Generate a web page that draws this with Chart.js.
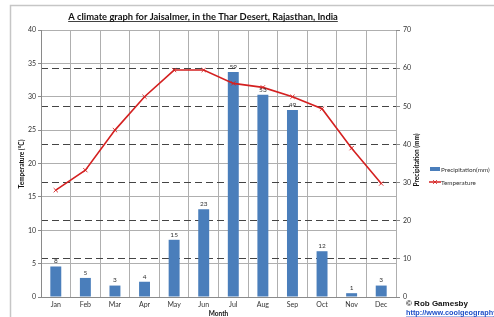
<!DOCTYPE html>
<html>
<head>
<meta charset="utf-8">
<script src="https://cdn.jsdelivr.net/npm/chart.js@4"></script>
<style>
    html, body { margin: 0; padding: 0; background: #ffffff; }
    #wrap { position: relative; width: 494px; height: 317px; overflow: hidden; }
</style>
</head>
<body>
<div id="wrap"><canvas id="myChart" width="494" height="317"></canvas></div>
<script>
// data
var monate = ["Jan", "Feb", "Mar", "Apr", "May", "Jun", "Jul", "Aug", "Sep", "Oct", "Nov", "Dec"];
var niederschlag = [8, 5, 3, 4, 15, 23, 59, 53, 49, 12, 1, 3];
var temperatur = [16, 19, 25, 30, 34, 34, 32, 31.4, 30, 28.2, 22.3, 17];
var tempTicks = [0, 5, 10, 15, 20, 25, 30, 35, 40];
var precTicks = [0, 10, 20, 30, 40, 50, 60, 70];

var titel = "A climate graph for Jaisalmer, in the Thar Desert, Rajasthan, India";
var schrift = "Lato, 'Open Sans', sans-serif";

// labels over the bars
var barLabels = {
    id: 'barLabels',
    afterDatasetsDraw: function (chart) {
        var ctx = chart.ctx;
        var meta = chart.getDatasetMeta(1);
        ctx.save();
        ctx.font = "6.5px " + schrift;
        ctx.fillStyle = "#333";
        ctx.textAlign = "center";
        ctx.textBaseline = "bottom";
        meta.data.forEach(function (bar, i) {
            ctx.fillText(niederschlag[i], bar.x, bar.y - 2);
        });
        ctx.restore();
    }
};

// frame, title, axis titles, legend, credit
var extras = {
    id: 'extras',
    beforeDraw: function (chart) {
        var ctx = chart.ctx;
        ctx.save();
        ctx.fillStyle = "#fff";
        ctx.fillRect(0, 0, chart.width, chart.height);
        ctx.strokeStyle = "#c6c6c6";
        ctx.lineWidth = 1.5;
        ctx.strokeRect(10.5, 5.5, 600, 400);
        ctx.restore();
    },
    afterDraw: function (chart) {
        var ctx = chart.ctx;
        var a = chart.chartArea;
        ctx.save();

        // title, bold and underlined
        ctx.fillStyle = "#111";
        var size = 9;
        ctx.font = "bold " + size + "px " + schrift;
        var w = ctx.measureText(titel).width;
        size = size * 270 / w;
        ctx.font = "bold " + size + "px " + schrift;
        w = ctx.measureText(titel).width;
        ctx.textAlign = "left";
        ctx.textBaseline = "alphabetic";
        var tx = 203 - w / 2;
        ctx.fillText(titel, tx, 20);
        ctx.strokeStyle = "#111";
        ctx.lineWidth = 0.8;
        ctx.beginPath();
        ctx.moveTo(tx, 21.5);
        ctx.lineTo(tx + w, 21.5);
        ctx.stroke();

        // axis titles
        ctx.font = "bold 6.5px " + schrift;
        ctx.textAlign = "center";
        ctx.textBaseline = "middle";
        ctx.save();
        ctx.translate(22, 164);
        ctx.rotate(-Math.PI / 2);
        ctx.fillText("Temperature (°C)", 0, 0);
        ctx.restore();
        ctx.save();
        ctx.translate(417, 160);
        ctx.rotate(-Math.PI / 2);
        ctx.fillText("Precipitation (mm)", 0, 0);
        ctx.restore();
        ctx.fillText("Month", (a.left + a.right) / 2, 314);

        // legend
        ctx.fillStyle = "#4a7ebb";
        ctx.fillRect(430, 167, 10, 4);
        ctx.strokeStyle = "#d42020";
        ctx.lineWidth = 1.5;
        ctx.beginPath();
        ctx.moveTo(429, 182);
        ctx.lineTo(441, 182);
        ctx.stroke();
        ctx.lineWidth = 0.8;
        ctx.beginPath();
        ctx.moveTo(433, 180); ctx.lineTo(437, 184);
        ctx.moveTo(437, 180); ctx.lineTo(433, 184);
        ctx.stroke();
        ctx.fillStyle = "#333";
        ctx.font = "6.3px " + schrift;
        ctx.textAlign = "left";
        ctx.fillText("Precipitation(mm)", 441, 169.5);
        ctx.fillText("Temperature", 441, 182.5);

        // credit
        ctx.font = "bold 8px 'Liberation Sans', Arial, sans-serif";
        ctx.fillStyle = "#111";
        ctx.fillText("© Rob Gamesby", 406, 304);
        ctx.font = "bold 7.3px 'Liberation Sans', Arial, sans-serif";
        ctx.fillStyle = "#1f4fc8";
        ctx.fillText("http://www.coolgeography.co.uk", 406, 313);
        var uw = ctx.measureText("http://www.coolgeography.co.uk").width;
        ctx.strokeStyle = "#1f4fc8";
        ctx.beginPath();
        ctx.moveTo(406, 317);
        ctx.lineTo(406 + uw, 317);
        ctx.stroke();
        ctx.restore();
    }
};

function makeChart() {
    var canvas = document.getElementById('myChart');
    new Chart(canvas, {
        data: {
            labels: monate,
            datasets: [{
                    type: 'line',
                    label: "Temperature",
                    data: temperatur,
                    yAxisID: 'y',
                    borderColor: "#d42020",
                    borderWidth: 1.6,
                    pointStyle: 'crossRot',
                    pointRadius: 3,
                    pointBorderColor: "#d42020",
                    pointBorderWidth: 0.9,
                    tension: 0,
                    fill: false,
                    order: 1
                }, {
                    type: 'bar',
                    label: "Precipitation(mm)",
                    data: niederschlag,
                    yAxisID: 'y1',
                    backgroundColor: "#4a7ebb",
                    barPercentage: 0.37,
                    categoryPercentage: 1,
                    order: 2
                }
            ]
        },
        options: {
            responsive: false,
            animation: false,
            layout: {padding: {top: 30, left: 0, right: 0, bottom: 0}},
            plugins: {
                legend: {display: false},
                title: {display: false},
                tooltip: {enabled: false}
            },
            scales: {
                x: {
                    offset: true,
                    grid: {offset: true, color: "#afafaf", drawTicks: false},
                    border: {display: true, color: "#8a8a8a"},
                    ticks: {
                        font: {size: 7, family: schrift},
                        color: "#333",
                        padding: 4,
                        maxRotation: 0,
                        autoSkip: false
                    },
                    afterFit: function (s) { s.height = 20; }
                },
                y: {
                    position: 'left',
                    min: 0,
                    max: 40,
                    afterBuildTicks: function (s) {
                        s.ticks = tempTicks.map(function (v) { return {value: v}; });
                    },
                    grid: {color: "#afafaf", tickLength: 3, tickColor: "#8a8a8a"},
                    border: {display: true, color: "#8a8a8a"},
                    ticks: {font: {size: 7, family: schrift}, color: "#333", padding: 2},
                    afterFit: function (s) { s.width = 41; }
                },
                y1: {
                    position: 'right',
                    min: 0,
                    max: 70,
                    afterBuildTicks: function (s) {
                        s.ticks = precTicks.map(function (v) { return {value: v}; });
                    },
                    grid: {
                        color: function (c) {
                            if (c.tick && (c.tick.value === 0 || c.tick.value === 70)) {
                                return "rgba(0,0,0,0)";
                            }
                            return "#444";
                        },
                        tickLength: 4,
                        tickColor: "#8a8a8a",
                        tickBorderDash: []
                    },
                    border: {display: false, dash: [7, 4]},
                    ticks: {font: {size: 7, family: schrift}, color: "#333", padding: 3},
                    afterFit: function (s) { s.width = 98; }
                }
            }
        },
        plugins: [extras, barLabels]
    });
}
makeChart();
</script>
</body>
</html>
